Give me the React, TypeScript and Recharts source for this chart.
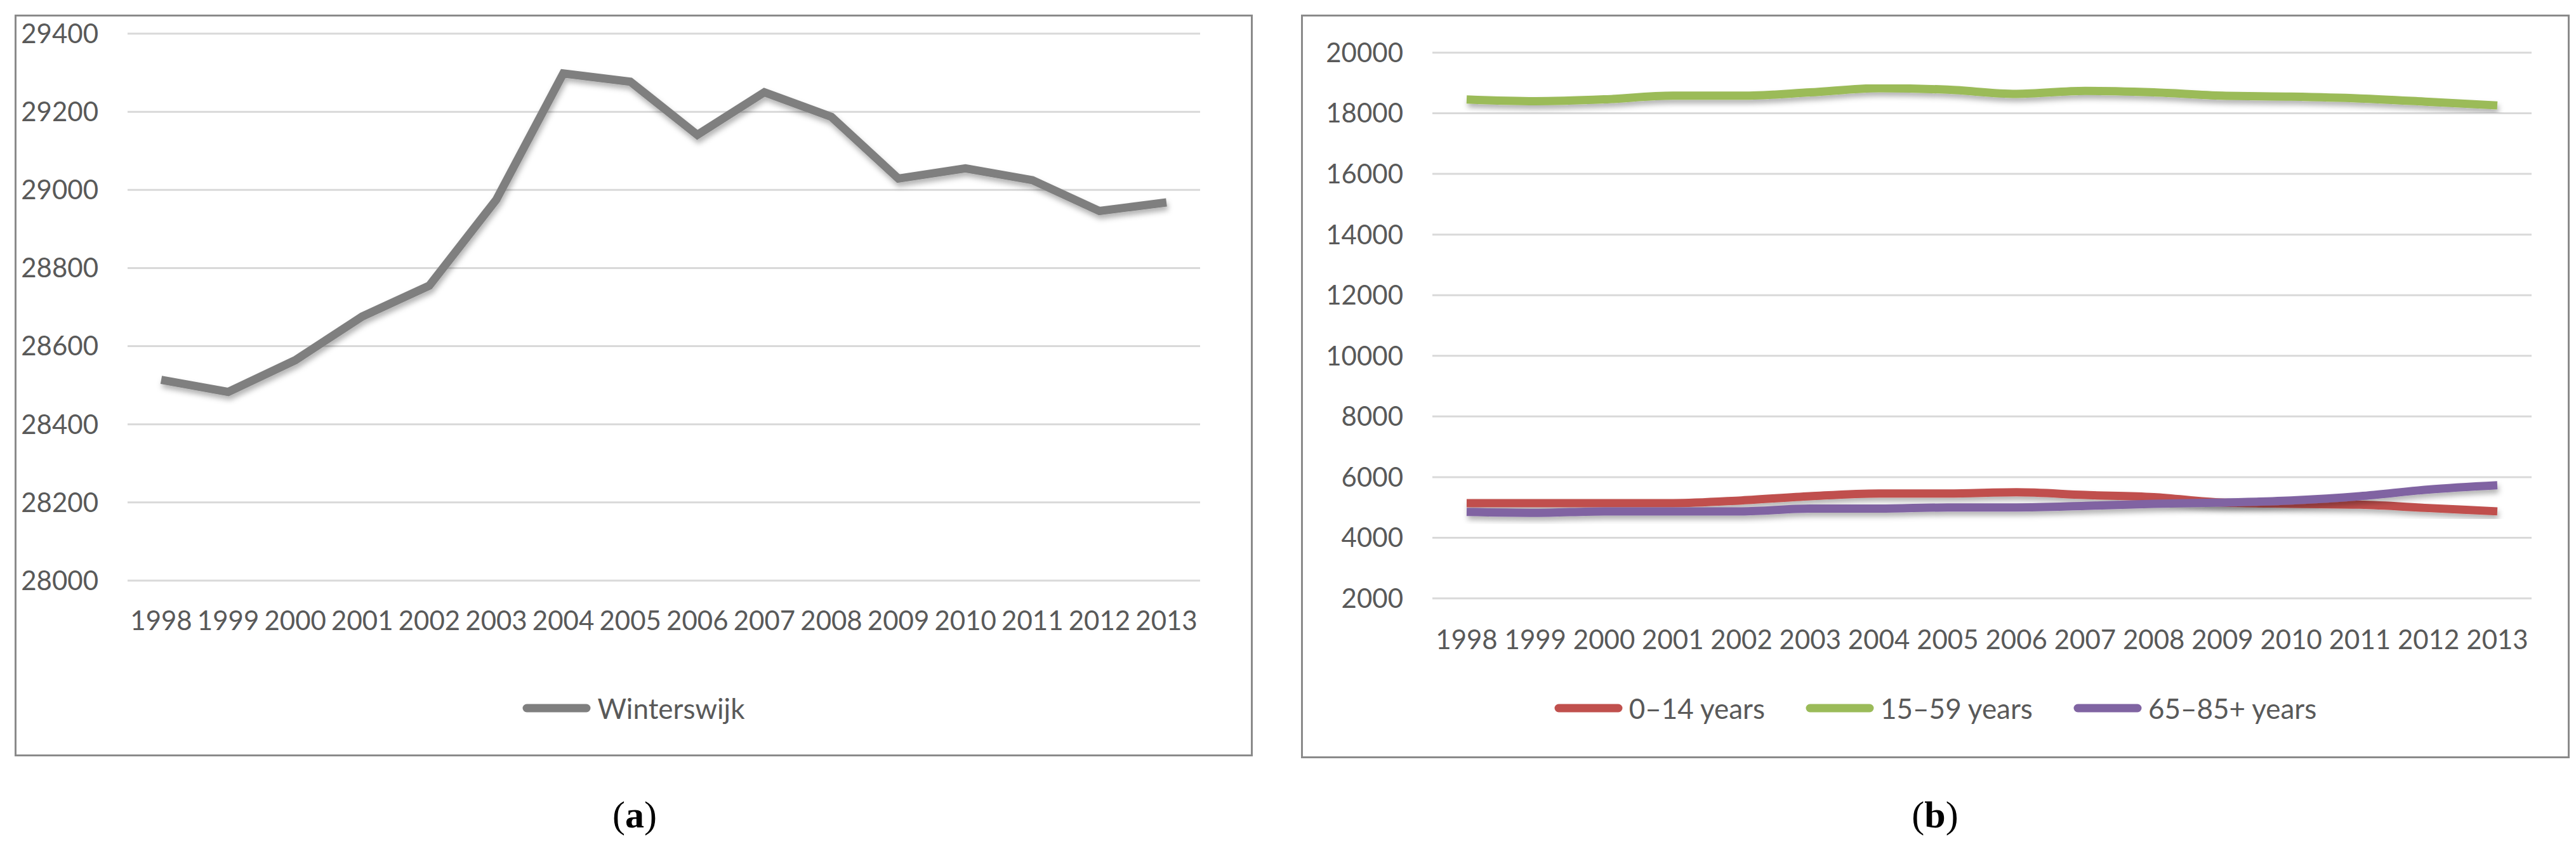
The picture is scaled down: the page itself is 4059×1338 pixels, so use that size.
import React from 'react';
import { LineChart, Line, XAxis, YAxis, CartesianGrid, Legend } from 'recharts';

const years = ['1998', '1999', '2000', '2001', '2002', '2003', '2004', '2005', '2006', '2007', '2008', '2009', '2010', '2011', '2012', '2013'];

const winterswijk = [28514, 28483, 28564, 28676, 28755, 28975, 29298, 29277, 29141, 29250, 29187, 29029, 29055, 29025, 28946, 28968];

const age0to14 = [5140, 5140, 5140, 5140, 5230, 5370, 5460, 5460, 5500, 5410, 5340, 5160, 5120, 5090, 4980, 4870];
const age15to59 = [18457, 18400, 18460, 18580, 18580, 18690, 18830, 18780, 18640, 18740, 18690, 18580, 18550, 18490, 18380, 18260];
const age65plus = [4850, 4820, 4870, 4870, 4870, 4960, 4960, 5000, 5000, 5050, 5120, 5160, 5230, 5370, 5590, 5730];

const ticksA = [28000, 28200, 28400, 28600, 28800, 29000, 29200, 29400];
const ticksB = [2000, 4000, 6000, 8000, 10000, 12000, 14000, 16000, 18000, 20000];

const dataA = years.map((y, i) => ({ year: y, Winterswijk: winterswijk[i] }));
const dataB = years.map((y, i) => ({
  year: y,
  '0\u201314 years': age0to14[i],
  '15\u201359 years': age15to59[i],
  '65\u201385+ years': age65plus[i],
}));

const FONT = 'Lato, "Open Sans", sans-serif';
const TEXT = '#595959';
const tickStyle = { fill: TEXT, fontSize: 42, fontFamily: FONT };

function LineLegend(props: any) {
  const items = props.payload || [];
  return (
    <div style={{ display: 'flex', justifyContent: 'center', alignItems: 'center', gap: 64 }}>
      {items.map((it: any) => (
        <div key={it.value} style={{ display: 'flex', alignItems: 'center' }}>
          <svg width={108} height={18} style={{ marginRight: 10 }}>
            <line x1={7} y1={9} x2={101} y2={9} stroke={it.color} strokeWidth={13} strokeLinecap="round" />
          </svg>
          <span style={{ fontFamily: FONT, fontSize: 44, color: TEXT, lineHeight: '50px' }}>{it.value}</span>
        </div>
      ))}
    </div>
  );
}

function ShadowDefs({ id }: { id: string }) {
  return (
    <defs>
      <filter id={id} x="-5%" y="-20%" width="110%" height="160%">
        <feDropShadow dx="2" dy="6" stdDeviation="4" floodColor="#000" floodOpacity="0.3" />
      </filter>
    </defs>
  );
}

const frame: React.CSSProperties = {
  position: 'absolute',
  border: '3px solid #8a8a8a',
  boxSizing: 'border-box',
};

const caption: React.CSSProperties = {
  position: 'absolute',
  top: 1250,
  width: 200,
  textAlign: 'center',
  fontFamily: '"Liberation Serif", serif',
  fontSize: 60,
  color: '#000',
};

export default function App() {
  return (
    <div style={{ position: 'absolute', left: 0, top: 0, width: 4059, height: 1338, background: '#fff', overflow: 'hidden' }}>
      <div style={{ ...frame, left: 23, top: 23, width: 1951, height: 1169 }} />
      <div style={{ position: 'absolute', left: 23, top: 23 }}>
        <LineChart width={1951} height={1169} data={dataA} margin={{ top: 30, right: 83, bottom: 197, left: 0 }}>
          <ShadowDefs id="shadowA" />
          <CartesianGrid vertical={false} stroke="#d9d9d9" strokeWidth={3} />
          <XAxis
            dataKey="year"
            axisLine={false}
            tickLine={false}
            tickSize={0}
            tickMargin={48}
            interval={0}
            padding={{ left: 53, right: 53 }}
            tick={tickStyle}
            height={80}
          />
          <YAxis
            domain={[28000, 29400]}
            ticks={ticksA}
            axisLine={false}
            tickLine={false}
            tickSize={0}
            tickMargin={46}
            width={178}
            tick={tickStyle}
          />
          <Legend
            layout="horizontal"
            verticalAlign="middle"
            align="center"
            content={LineLegend}
            wrapperStyle={{ top: 1068, left: 0, width: 1951 }}
          />
          <Line
            type="linear"
            dataKey="Winterswijk"
            stroke="#7f7f7f"
            strokeWidth={13}
            dot={false}
            filter="url(#shadowA)"
            isAnimationActive={false}
          />
        </LineChart>
      </div>
      <div style={{ ...caption, left: 900 }}>
        (<b>a</b>)
      </div>

      <div style={{ ...frame, left: 2050, top: 23, width: 1999, height: 1172 }} />
      <div style={{ position: 'absolute', left: 2050, top: 23 }}>
        <LineChart width={1999} height={1172} data={dataB} margin={{ top: 60, right: 60, bottom: 172, left: 0 }}>
          <ShadowDefs id="shadowB" />
          <CartesianGrid vertical={false} stroke="#d9d9d9" strokeWidth={3} />
          <XAxis
            dataKey="year"
            axisLine={false}
            tickLine={false}
            tickSize={0}
            tickMargin={50}
            interval={0}
            padding={{ left: 54, right: 54 }}
            tick={tickStyle}
            height={80}
          />
          <YAxis
            domain={[2000, 20000]}
            ticks={ticksB}
            axisLine={false}
            tickLine={false}
            tickSize={0}
            tickMargin={46}
            width={207}
            tick={tickStyle}
          />
          <Legend
            layout="horizontal"
            verticalAlign="middle"
            align="center"
            content={LineLegend}
            wrapperStyle={{ top: 1068, left: 0, width: 1999 }}
          />
          <Line type="monotone" dataKey={'0\u201314 years'} stroke="#c0504d" strokeWidth={13} dot={false} filter="url(#shadowB)" isAnimationActive={false} />
          <Line type="monotone" dataKey={'15\u201359 years'} stroke="#9bbb59" strokeWidth={13} dot={false} filter="url(#shadowB)" isAnimationActive={false} />
          <Line type="monotone" dataKey={'65\u201385+ years'} stroke="#8064a2" strokeWidth={13} dot={false} filter="url(#shadowB)" isAnimationActive={false} />
        </LineChart>
      </div>
      <div style={{ ...caption, left: 2949 }}>
        (<b>b</b>)
      </div>
    </div>
  );
}
